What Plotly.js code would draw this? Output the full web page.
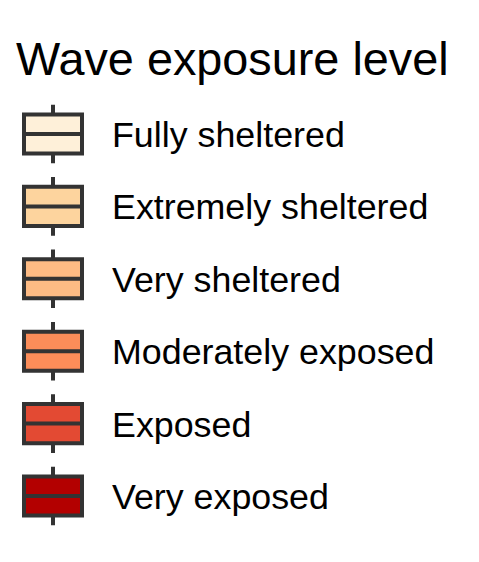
<!DOCTYPE html>
<html>
<head>
<meta charset="utf-8">
<script src="https://cdn.plot.ly/plotly-3.0.1.min.js"></script>
<style>html,body{margin:0;padding:0;background:#fff;}#chart{width:479px;height:562px;}</style>
</head>
<body>
<div id="chart"></div>
<script>
// Legend categories and their fill colours (OrRd palette)
const categories = ["Fully sheltered", "Extremely sheltered", "Very sheltered", "Moderately exposed", "Exposed", "Very exposed"];
const fillColors = ["#FEF0D9", "#FDD49E", "#FDBB84", "#FC8D59", "#E34A33", "#B30000"];
const legendTitle = "Wave exposure level";

// Key glyph geometry (in key-row units)
const halfBox = 0.27;
const halfWhisker = 0.405;
const keyX = 53;      // x-axis position of glyph centre
const keyWidth = 58;  // glyph width
const labelX = 110;
const labelShift = 0.015; // slight downward nudge of labels (row units)

const traces = categories.map((c, i) => ({
  type: "box",
  name: c,
  x: [keyX],
  q1: [i - halfBox],
  median: [i],
  q3: [i + halfBox],
  lowerfence: [i - halfWhisker],
  upperfence: [i + halfWhisker],
  width: keyWidth,
  whiskerwidth: 0,
  fillcolor: fillColors[i],
  line: { color: "#333333", width: 4 },
  boxpoints: false,
  hoverinfo: "skip",
  showlegend: false
}));

const annotations = categories.map((c, i) => ({
  x: labelX, y: i + labelShift, xref: "x", yref: "y",
  text: c, showarrow: false,
  xanchor: "left", yanchor: "middle",
  font: { family: "Liberation Sans, Arial, sans-serif", size: 35.8, color: "#000000" }
}));

const layout = {
  width: 479, height: 562,
  margin: { l: 0, r: 0, t: 0, b: 0, pad: 0 },
  paper_bgcolor: "#ffffff", plot_bgcolor: "#ffffff",
  boxmode: "overlay",
  title: {
    text: legendTitle,
    x: 16 / 479, xanchor: "left", xref: "paper",
    y: 1 - 59 / 562, yanchor: "middle", yref: "container",
    font: { family: "Liberation Sans, Arial, sans-serif", size: 46.8, color: "#000000" }
  },
  xaxis: { range: [0, 479], visible: false, fixedrange: true },
  yaxis: { range: [(562 - 134) / 72.4, -134 / 72.4], visible: false, fixedrange: true },
  annotations: annotations
};

Plotly.newPlot("chart", traces, layout, { staticPlot: true, displayModeBar: false });
</script>
</body>
</html>
